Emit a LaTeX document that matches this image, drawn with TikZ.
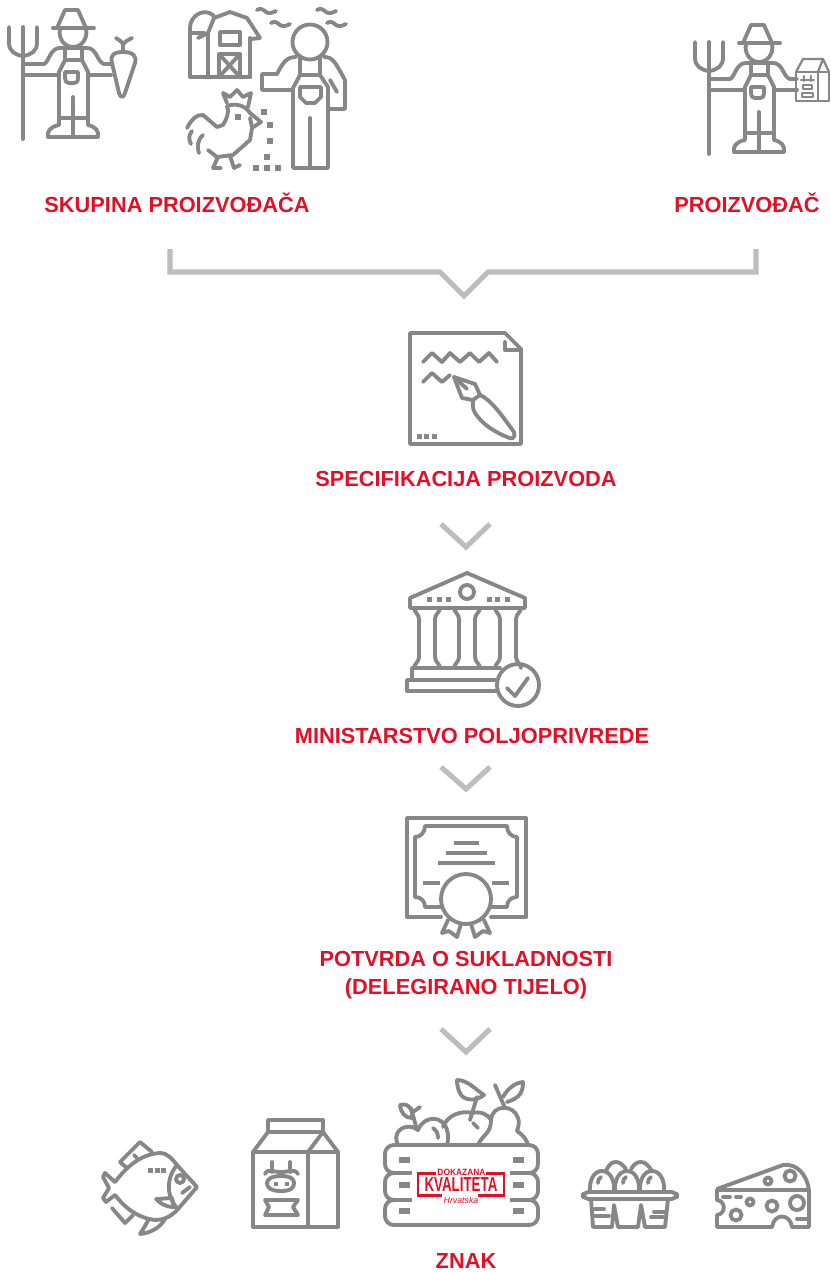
\documentclass[tikz,border=0pt]{standalone}
\usepackage{fontspec}
\setmainfont{Liberation Sans}
\definecolor{icongray}{HTML}{878787}
\definecolor{arrowgray}{HTML}{BDBDBD}
\definecolor{labelred}{HTML}{E30F26}
\begin{document}
\begin{tikzpicture}[x=0.02cm,y=-0.02cm,
  icon/.style={draw=icongray,line width=2.2pt,line join=round,line cap=round},
  thinicon/.style={draw=icongray,line width=1.3pt,line join=round,line cap=round},
  bar/.style={draw=icongray,line width=2.6pt},
  squaredot/.style={fill=icongray},
  chevron/.style={draw=arrowgray,line width=2.9pt},
  steplabel/.style={text=labelred,font=\fontsize{12.4}{16.3}\selectfont\bfseries,align=center},
  logored/.style={draw=labelred,line width=1.7pt},
]
\useasboundingbox (0,0) rectangle (831,1272);
% labels
\node[steplabel] (groupLabel) at (177,203) {SKUPINA PROIZVOĐAČA};
\node[steplabel] (farmerLabel) at (747,203) {PROIZVOĐAČ};
\node[steplabel] (specLabel) at (466,478.5) {SPECIFIKACIJA PROIZVODA};
\node[steplabel] (ministryLabel) at (472,735.5) {MINISTARSTVO POLJOPRIVREDE};
\node[steplabel] (confirmLabel) at (466,975) {POTVRDA O SUKLADNOSTI\\(DELEGIRANO TIJELO)};
\node[steplabel] (signLabel) at (466,1260.5) {ZNAK};
% chevrons between the steps
\draw[chevron] (170,249) -- (170,272) -- (440,272) -- (464,296) -- (488,272) -- (756,272) -- (756,249);
\draw[chevron] (441,524) -- (466,547) -- (490,524);
\draw[chevron] (441,767) -- (466,789) -- (490,767);
\draw[chevron] (441,1029) -- (466,1052) -- (490,1029);
% farmer with the fork, two copies
\foreach \fx/\fy in {0/0,686/15} {
\begin{scope}[shift={(\fx,\fy)}]
\draw[icon] (23,27) -- (23,139);
\draw[icon] (9,27) -- (9,43) .. controls (9,51) and (15,55) .. (23,56) .. controls (31,55) and (37,51) .. (37,43) -- (37,27);
\draw[icon] (57,28) -- (65,10) -- (78,10) -- (86,28);
\draw[icon] (53,28) -- (94,28);
\draw[icon] (60,29) .. controls (58,38) and (64,47) .. (73,47) .. controls (82,47) and (88,38) .. (86,29);
\draw[icon] (23,64) -- (44,64) .. controls (49,62) and (50,48) .. (60,48) -- (87,48) .. controls (97,48) and (97,62) .. (104,64) -- (111,64);
\draw[icon] (23,75) -- (59,75);
\draw[icon] (88,75) -- (111,75);
\draw[icon] (65,48) -- (65,60) -- (59,72) -- (59,125);
\draw[icon] (82,48) -- (82,60) -- (88,72) -- (88,125);
\draw[icon] (65,60) -- (82,60);
\draw[icon] (65,72) -- (78,72) -- (78,78) .. controls (78,82) and (76,83) .. (74,83) -- (69,83) .. controls (66,83) and (65,81) .. (65,78) -- cycle;
\draw[icon] (73,97) -- (73,136);
\draw[icon] (59,118) -- (88,118);
\draw[icon] (59,125) .. controls (50,127) and (47,131) .. (48,137) -- (98,137) .. controls (99,131) and (96,127) .. (88,125);
\end{scope}
}
% carrot
\draw[icon] (123,52) .. controls (113,52) and (110,56) .. (112,63) -- (119,93) .. controls (120,98) and (124,98) .. (125,93) -- (135,63) .. controls (137,56) and (133,52) .. (123,52);
\draw[icon] (123,52) -- (123,45) .. controls (123,42) and (119,40) .. (116,38);
\draw[icon] (123,45) .. controls (124,42) and (128,40) .. (132,38);
% carton in the hand of the second farmer
\draw[thinicon] (796,72) -- (829,72) -- (829,101) -- (796,101) -- cycle;
\draw[thinicon] (818,72) -- (818,101);
\draw[thinicon] (796,72) -- (803,59) -- (823,59) -- (829,72);
\draw[thinicon] (823,59) -- (818,72);
\draw[thinicon] (804,76) -- (804,81);
\draw[thinicon] (811,76) -- (811,81);
\draw[thinicon] (801,80) -- (814,80);
\draw[thinicon] (803,85) rectangle (812,89);
\draw[thinicon] (802,93) -- (813,93) -- (813,97) -- (802,97) -- cycle;
% barn and silo
\draw[icon] (190,77) -- (250,77);
\draw[icon] (190,77) -- (190,28) .. controls (190,15) and (205,7) .. (214,16);
\draw[icon] (192,33) -- (204,33);
\draw[icon] (198,38) -- (208,33) -- (214,18) -- (230,12) -- (247,18) -- (260,38) -- (251,39);
\draw[icon] (208,33) -- (208,77);
\draw[icon] (250,38) -- (250,77);
\draw[icon] (220,32) rectangle (240,45);
\draw[icon] (219,54) rectangle (240,77);
\draw[icon] (219,54) -- (240,77);
\draw[icon] (240,54) -- (219,77);
% birds
\foreach \bx/\by in {257/10,271/23,317/10,327/23} {
\draw[icon] (\bx,\by) .. controls (\bx+3,\by-2) and (\bx+6,\by-1) .. (\bx+9,\by+2) .. controls (\bx+12,\by+4) and (\bx+15,\by+3) .. (\bx+19,\by+1);
}
% big farmer
\draw[icon] (310,42) circle (17.5);
\draw[icon] (300,57) -- (300,75) -- (293,88) -- (293,168) -- (328,168) -- (328,87) -- (320,75) -- (320,57);
\draw[icon] (300,75) -- (320,75);
\draw[icon] (296,57) .. controls (287,57) and (283,62) .. (277,74) -- (262,74) -- (262,90) -- (292,90);
\draw[icon] (324,57) .. controls (333,57) and (335,62) .. (345,80) -- (345,109) -- (329,109);
\draw[icon] (330,80) -- (337,92);
\draw[icon] (300,87) -- (321,87) -- (321,97) -- (315,103) -- (306,103) -- (300,97) -- cycle;
\draw[icon] (310,118) -- (310,166);
% rooster
\draw[icon] (227,103) -- (223,93) -- (230,97) -- (237,90) -- (243,97) -- (251,93) -- (248,107);
\draw[icon] (227,106) .. controls (230,112) and (226,120) .. (223,125) -- (217,127) -- (203,115) .. controls (197,114) and (191,120) .. (187,128);
\draw[icon] (227,106) .. controls (235,103) and (245,105) .. (250,113) -- (261,122) -- (252,128) -- (250,140) -- (233,155) -- (217,157) -- (208,150);
\draw[icon] (250,118) -- (252,127);
\draw[icon] (192,131) .. controls (188,136) and (189,140) .. (191,144);
\draw[icon] (203,135) .. controls (197,140) and (197,148) .. (199,153);
\draw[icon] (218,157) -- (213,168) -- (221,168);
\draw[icon] (230,156) -- (234,168) -- (240,165);
\foreach \dotx/\doty in {238/117,264/112,270/125,270/141,267/157,256/168,267/168,278/168} {
\fill[squaredot] (\dotx-3,\doty-3) rectangle ++(6,6);
}
% document with the pen
\draw[icon] (410,333) -- (505,333) -- (521,349) -- (521,444) -- (410,444) -- cycle;
\draw[icon] (505,342) -- (505,350) -- (521,350);
\draw[icon] (423,362) -- (432,353) -- (442,362) -- (450,353) -- (460,362) -- (470,353) -- (479,362) -- (489,353) -- (497,362);
\draw[icon] (423,382) -- (432,373) -- (442,382) -- (450,375);
\draw[icon] (454,377) -- (475,384) -- (480,395) -- (473,400) -- (462,398) -- cycle;
\draw[icon] (454,377) -- (467,389);
\draw[icon] (480,395) .. controls (492,400) and (505,420) .. (514,432) .. controls (516,438) and (512,440) .. (507,437) .. controls (495,432) and (483,425) .. (475,413) .. controls (472,408) and (473,404) .. (473,400);
\foreach \dotx in {419,426,434} {
\fill[squaredot] (\dotx-2.5,433.5) rectangle ++(5,5);
}
% temple with the check mark
\draw[icon] (410,598) -- (467,573) -- (525,598) -- (525,608) -- (410,608) -- cycle;
\draw[icon] (467,592) circle (7);
\foreach \dotx in {429,439,448,489,497,507} {
\fill[squaredot] (\dotx-2.5,596.5) rectangle ++(5,5);
}
\foreach \cx in {427,467,508} {
\draw[icon] (\cx-13,608) .. controls (\cx-13,612) and (\cx-8,614) .. (\cx-8,619) -- (\cx-8,657) .. controls (\cx-8,662) and (\cx-13,664) .. (\cx-13,668);
\draw[icon] (\cx+13,608) .. controls (\cx+13,612) and (\cx+8,614) .. (\cx+8,619) -- (\cx+8,657) .. controls (\cx+8,662) and (\cx+13,664) .. (\cx+13,668);
}
\draw[icon] (500,668) -- (412,668) -- (412,680);
\draw[icon] (497,680) -- (407,680) -- (407,691) -- (497,691);
\draw[icon] (518,685) circle (21);
\draw[icon] (507,688) -- (515,696) -- (528,678);
% certificate
\draw[icon] (441,917) -- (407,917) -- (407,818) -- (526,818) -- (526,917) -- (491,917);
\draw[icon] (441,907) -- (425,907) .. controls (425,901) and (421,897) .. (415,897) -- (415,837) .. controls (421,837) and (425,832) .. (425,826) -- (507,826) .. controls (507,832) and (511,837) .. (517,837) -- (517,897) .. controls (511,897) and (507,901) .. (507,907) -- (491,907);
\draw[icon] (466,899) circle (25);
\draw[bar] (454,843) -- (479,843);
\draw[bar] (446,853) -- (487,853);
\draw[bar] (438,863) -- (495,863);
\draw[bar] (423,883) -- (440,883);
\draw[bar] (492,883) -- (509,883);
\draw[icon] (448,920) -- (442,933) -- (449,931) -- (457,937) -- (461,924);
\draw[icon] (484,920) -- (490,933) -- (483,931) -- (475,937) -- (471,924);
% fish
\draw[icon] (115,1182) .. controls (128,1165) and (142,1154) .. (160,1153) .. controls (168,1153) and (173,1160) .. (177,1165) -- (197,1187) -- (178,1209) .. controls (170,1218) and (162,1220) .. (155,1220) .. controls (138,1218) and (125,1208) .. (115,1195);
\draw[icon] (115,1182) -- (105,1173) -- (103,1177) -- (109,1188) -- (103,1198) -- (106,1202) -- (115,1195);
\draw[icon] (120,1162) -- (140,1142) -- (152,1152);
\draw[icon] (120,1162) -- (127,1168);
\draw[icon] (134,1155) -- (137,1158);
\draw[icon] (112,1208) -- (125,1223) -- (133,1215);
\draw[icon] (165,1219) .. controls (160,1228) and (150,1233) .. (140,1234) .. controls (144,1228) and (146,1224) .. (149,1219);
\draw[icon] (177,1165) .. controls (166,1178) and (166,1197) .. (178,1209);
\draw[icon] (180,1179) circle (4);
\draw[icon] (182,1193) -- (190,1187);
\draw[icon] (156,1199) -- (172,1198) -- (174,1207) .. controls (165,1207) and (160,1203) .. (156,1199);
\foreach \dotx in {150,157,163} {
\fill[squaredot] (\dotx-2.5,1167.5) rectangle ++(5,5);
}
% milk carton
\draw[icon] (253,1152) -- (338,1152) -- (338,1227) -- (253,1227) -- cycle;
\draw[icon] (308,1152) -- (308,1227);
\draw[icon] (253,1152) -- (268,1132) -- (323,1132) -- (338,1152);
\draw[icon] (323,1132) -- (308,1152);
\draw[icon] (268,1120) rectangle (323,1132);
\draw[icon] (272,1162) -- (272,1172);
\draw[icon] (290,1162) -- (290,1172);
\draw[icon] (265,1174) .. controls (268,1168) and (272,1172) .. (281,1172) .. controls (290,1172) and (294,1168) .. (298,1174);
\draw[icon] (281,1176) .. controls (270,1176) and (267,1180) .. (267,1183) .. controls (267,1187) and (270,1191) .. (281,1191) .. controls (292,1191) and (294,1187) .. (294,1183) .. controls (294,1180) and (292,1176) .. (281,1176);
\foreach \dotx in {276,287} {
\fill[squaredot] (\dotx-2,1181.5) rectangle ++(4,4);
}
\draw[icon] (265,1200) -- (298,1200) -- (293,1207) -- (298,1215) -- (265,1215) -- (269,1207) -- cycle;
% crate of fruit
\draw[icon, rounded corners=5pt] (385,1145) rectangle (538,1173);
\draw[icon, rounded corners=5pt] (385,1173) rectangle (538,1200);
\draw[icon, rounded corners=5pt] (385,1200) rectangle (538,1225);
\foreach \dotx in {399,513} {
\foreach \doty in {1160,1185,1211} {
\fill[squaredot] (\dotx,\doty-3) rectangle ++(11,6);
}
}
\draw[icon] (398,1145) .. controls (392,1133) and (402,1125) .. (412,1127) .. controls (414,1127) and (416,1129) .. (418,1130) .. controls (424,1115) and (443,1115) .. (447,1130) .. controls (449,1136) and (448,1141) .. (447,1145);
\draw[icon] (443,1127) .. controls (447,1115) and (462,1110) .. (472,1113) .. controls (480,1111) and (488,1114) .. (491,1120);
\draw[icon] (478,1145) .. controls (482,1135) and (491,1134) .. (491,1120) .. controls (492,1104) and (514,1104) .. (518,1118) .. controls (520,1122) and (518,1128) .. (517,1131) .. controls (523,1135) and (527,1140) .. (528,1145);
\draw[icon] (433,1128) .. controls (437,1131) and (438,1134) .. (438,1138);
\draw[icon] (473,1123) -- (478,1128);
% stems and leaves
\draw[icon] (417,1130) -- (411,1108);
\draw[icon] (400,1105) .. controls (410,1102) and (413,1112) .. (412,1118) .. controls (405,1118) and (401,1113) .. (400,1105);
\draw[icon] (420,1107) -- (413,1112);
\draw[icon] (470,1120) -- (477,1097);
\draw[icon] (457,1080) .. controls (468,1080) and (476,1090) .. (484,1095) .. controls (475,1102) and (465,1100) .. (461,1095) .. controls (458,1090) and (457,1085) .. (457,1080);
\draw[icon] (495,1085) -- (505,1108);
\draw[icon] (503,1097) .. controls (508,1088) and (515,1083) .. (523,1082) .. controls (523,1092) and (520,1098) .. (507,1102);
% logo on the crate
\fill[white] (412,1162) rectangle (510,1205);
\draw[logored] (436,1173) -- (418,1173) -- (418,1195) -- (442,1195);
\draw[logored] (486,1173) -- (504,1173) -- (504,1195) -- (478,1195);
\node[text=labelred,font=\fontsize{5.2}{6}\selectfont\bfseries,inner sep=0pt,xscale=0.92] (logoTop) at (461.5,1172) {DOKAZANA};
\node[text=labelred,font=\fontsize{11.5}{12}\selectfont\bfseries,inner sep=0pt,xscale=0.66] (logoMain) at (461,1185) {KVALITETA};
\node[text=labelred,font=\fontsize{5}{6}\selectfont\itshape,inner sep=0pt] (logoScript) at (461,1200) {Hrvatska};
% eggs in the tray
\draw[icon, rounded corners=3pt] (583,1192) rectangle (677,1199);
\draw[icon] (591,1199) -- (593,1227) -- (612,1227) -- (614,1205) -- (618,1227) -- (638,1227) -- (641,1205) -- (645,1227) -- (665,1227) -- (668,1199);
\foreach \ex in {602,627,652} {
\draw[icon] (\ex-12,1192) .. controls (\ex-13,1180) and (\ex-8,1171) .. (\ex,1171) .. controls (\ex+8,1171) and (\ex+13,1180) .. (\ex+12,1192);
}
\draw[icon] (606,1171) .. controls (609,1164) and (612,1162) .. (616,1162) .. controls (620,1162) and (623,1165) .. (626,1169);
\draw[icon] (631,1169) .. controls (634,1164) and (637,1162) .. (641,1162) .. controls (645,1162) and (648,1165) .. (652,1171);
\draw[icon] (598,1183) .. controls (598,1180) and (599,1178) .. (601,1177);
\draw[icon] (623,1183) .. controls (623,1180) and (624,1178) .. (626,1177);
\draw[icon] (648,1183) .. controls (648,1180) and (649,1178) .. (651,1177);
\draw[icon] (595,1209) -- (604,1209);
\draw[icon] (595,1216) -- (609,1216);
\draw[icon] (654,1212) -- (665,1212);
\draw[icon] (651,1217) -- (664,1217);
% cheese
\draw[icon] (717,1189) -- (783,1165) .. controls (797,1163) and (807,1175) .. (809,1190);
\draw[icon] (717,1190) -- (809,1190) -- (809,1227) -- (792,1227) .. controls (790,1213) and (774,1213) .. (772,1227) -- (717,1227) -- (717,1215) .. controls (726,1214) and (726,1201) .. (717,1200) -- cycle;
\draw[icon] (768,1181) circle (3.5);
\draw[icon] (790,1176) circle (5.5);
\draw[icon] (750,1202) circle (3.5);
\draw[icon] (772,1206) circle (5.5);
\draw[icon] (797,1203) circle (7);
\draw[icon] (736,1215) circle (5.5);
\draw[icon] (723,1197) -- (730,1197);
\draw[icon] (736,1197) -- (741,1197);
\draw[icon] (797,1219) -- (809,1219);
\end{tikzpicture}
\end{document}
